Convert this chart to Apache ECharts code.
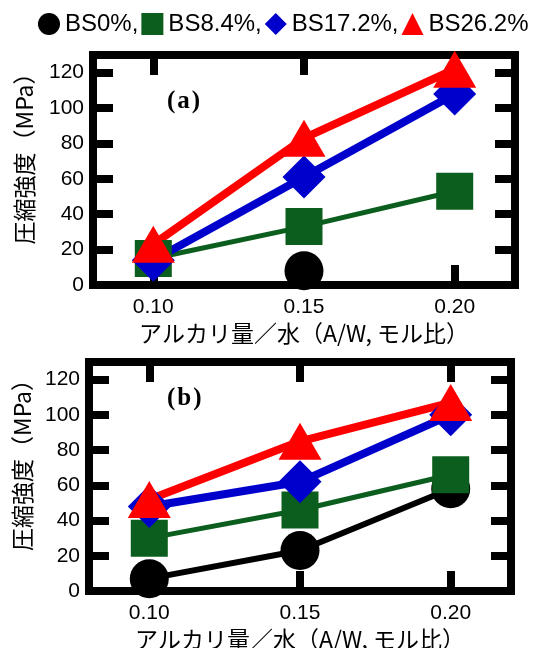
<!DOCTYPE html>
<html><head><meta charset="utf-8">
<script src="https://cdn.jsdelivr.net/npm/echarts@6/dist/echarts.min.js"></script>
<style>html,body{margin:0;padding:0;background:#fff}#c{width:534px;height:648px}</style>
</head><body><div id="c"></div>
<script>
const xValues = [0.10, 0.15, 0.20];
const xTicks = [0.10, 0.15, 0.20];
const yTicks = [0, 20, 40, 60, 80, 100, 120];
const seriesNames = ['BS0%', 'BS8.4%', 'BS17.2%', 'BS26.2%'];
const panelA_BS0 = [null, 8, null];
const panelA_BS84 = [15, 33, 53];
const panelA_BS172 = [14, 61, 108];
const panelA_BS262 = [23, 83, 122];
const panelB_BS0 = [7, 23, 58];
const panelB_BS84 = [30, 46, 66];
const panelB_BS172 = [48, 62, 100];
const panelB_BS262 = [52, 85, 107];

const colors = ['#000000', '#0b5e1d', '#0000cc', '#ff0000'];
const symbols = ['circle', 'rect', 'diamond', 'triangle'];
const symbolSizes = [39, 37, [43, 43], [43, 37]];
const lineWidths = [6, 5, 8, 8];
const panels = [
  [panelA_BS0, panelA_BS84, panelA_BS172, panelA_BS262],
  [panelB_BS0, panelB_BS84, panelB_BS172, panelB_BS262]
];

const chart = echarts.init(document.getElementById('c'));
const labelFont = 'Liberation Sans';
const jpFont = '"Noto Sans CJK JP"';

const grids = [
  {left: 93, top: 55, width: 422, height: 230},
  {left: 89, top: 362, width: 422, height: 229}
].map(g => Object.assign(g, {show: true, borderColor: '#000', borderWidth: 8, backgroundColor: 'transparent', containLabel: false, outerBoundsMode: 'none'}));

const tickStyle = {show: true, inside: true, length: 20, lineStyle: {color: '#000', width: 8}};
const noLine = {show: false, onZero: false};
const xAxes = [], yAxes = [];
[0, 1].forEach(gi => {
  xAxes.push({
    type: 'value', gridIndex: gi, position: 'bottom', min: 0.08, max: 0.22,
    axisLine: noLine, splitLine: {show: false},
    axisTick: Object.assign({customValues: xTicks}, tickStyle),
    axisLabel: {customValues: xTicks, formatter: v => v.toFixed(2), fontSize: 21, fontFamily: labelFont, color: '#000', margin: 12},
    name: 'アルカリ量／水（A/W, モル比）', nameLocation: 'middle', nameGap: 37,
    nameTextStyle: {fontSize: 23, fontFamily: jpFont, color: '#000'}
  });
  xAxes.push({
    type: 'value', gridIndex: gi, position: 'top', min: 0.08, max: 0.22,
    axisLine: noLine, splitLine: {show: false},
    axisTick: Object.assign({customValues: xTicks}, tickStyle),
    axisLabel: {show: false}
  });
  yAxes.push({
    type: 'value', gridIndex: gi, position: 'left', min: 0, max: 130,
    axisLine: noLine, splitLine: {show: false},
    axisTick: Object.assign({customValues: yTicks}, tickStyle),
    axisLabel: {customValues: yTicks, fontSize: 21, fontFamily: labelFont, color: '#000', margin: 9, padding: [0, 0, 16, 0]},
    name: '圧縮強度（MPa）', nameLocation: 'middle', nameGap: gi === 0 ? 57 : 55,
    nameTextStyle: {fontSize: 23, fontFamily: jpFont, color: '#000', padding: [0, 0, 0, 34]}
  });
  yAxes.push({
    type: 'value', gridIndex: gi, position: 'right', min: 0, max: 130,
    axisLine: noLine, splitLine: {show: false},
    axisTick: Object.assign({customValues: yTicks}, tickStyle),
    axisLabel: {show: false}
  });
});

const series = [];
panels.forEach((vals, gi) => {
  vals.forEach((arr, si) => {
    series.push({
      name: seriesNames[si], type: 'line',
      xAxisIndex: gi * 2, yAxisIndex: gi * 2,
      data: arr.map((v, k) => [xValues[k], v]),
      symbol: symbols[si], symbolSize: symbolSizes[si], showSymbol: true,
      lineStyle: {color: colors[si], width: lineWidths[si]},
      itemStyle: {color: colors[si]},
      clip: false, connectNulls: false, silent: true,
      emphasis: {disabled: true}
    });
  });
});

const rich = {
  p: {fontSize: 25, fontFamily: 'Liberation Serif', color: '#000', padding: [0, 2]},
  b: {fontSize: 25, fontFamily: 'Liberation Serif', fontWeight: 'bold', color: '#000'}
};

chart.setOption({
  animation: false,
  backgroundColor: '#fff',
  title: [
    {text: '{p|(}{b|a}{p|)}', left: 165, top: 89, padding: 0, textStyle: {rich}},
    {text: '{p|(}{b|b}{p|)}', left: 165, top: 386, padding: 0, textStyle: {rich}}
  ],
  legend: {
    left: 38, top: 12, width: 500, padding: 0, itemWidth: 22, itemHeight: 22, itemGap: 3,
    selectedMode: false,
    data: seriesNames.map((n, i) => ({name: n, icon: symbols[i]})),
    formatter: n => n === seriesNames[seriesNames.length - 1] ? n : n + ',',
    textStyle: {fontSize: 24, fontFamily: labelFont, color: '#000'}
  },
  grid: grids,
  xAxis: xAxes,
  yAxis: yAxes,
  series
});
</script>
</body></html>
